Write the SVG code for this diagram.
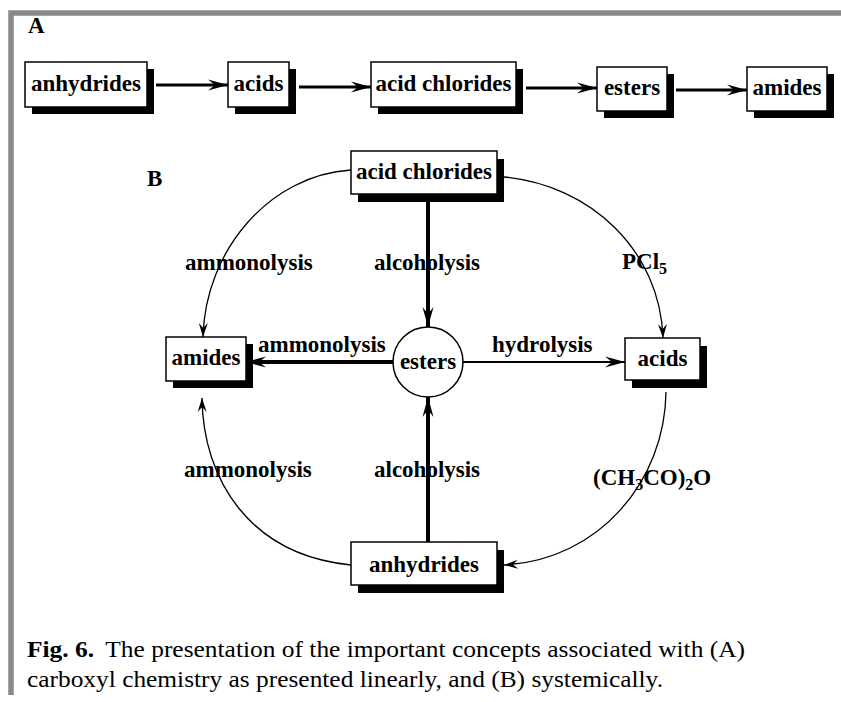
<svg xmlns="http://www.w3.org/2000/svg" width="841" height="702" viewBox="0 0 841 702">
<style>
.box{fill:#fff;stroke:#000;stroke-width:1.5}
.sh{fill:#000}
.nt{font-family:"Liberation Serif","Times New Roman",serif;font-weight:bold;font-size:23px;text-anchor:middle;fill:#000}
.lb{font-family:"Liberation Serif","Times New Roman",serif;font-weight:bold;font-size:23px;fill:#000}
.cap{font-family:"Liberation Serif","Times New Roman",serif;font-size:24px;fill:#000}
.thick{stroke:#000;stroke-width:3;fill:none}
.thick4{stroke:#000;stroke-width:4;fill:none}
.med{stroke:#000;stroke-width:2;fill:none}
.thin{stroke:#000;stroke-width:1.3;fill:none}
</style>
<defs>
<marker id="big" markerUnits="userSpaceOnUse" markerWidth="24" markerHeight="14" viewBox="-22 -7 24 14" refX="0" refY="0" orient="auto">
<path d="M0,0 L-20,-5.5 L-13,0 L-20,5.5 Z" fill="#000"/>
</marker>
<marker id="sm" markerUnits="userSpaceOnUse" markerWidth="16" markerHeight="12" viewBox="-15 -6 16 12" refX="0" refY="0" orient="auto">
<path d="M0,0 L-14,-4.5 L-9,0 L-14,4.5 Z" fill="#000"/>
</marker>
</defs>
<rect width="841" height="702" fill="#fff"/>
<g id="frame">
<path d="M11,695 L11,13 L841,13" fill="none" stroke="#888" stroke-width="5.5"/>
</g>
<text class="lb" x="28" y="33" font-size="22">A</text>
<text class="lb" x="147" y="186" font-size="22">B</text>

<g id="connectors">
<line class="thick" x1="156" y1="85" x2="228" y2="85" marker-end="url(#big)"/>
<line class="thick" x1="299" y1="87" x2="371" y2="87" marker-end="url(#big)"/>
<line class="thick" x1="526" y1="88" x2="597" y2="88" marker-end="url(#big)"/>
<line class="thick" x1="676" y1="90" x2="747" y2="90" marker-end="url(#big)"/>
<line class="thick4" x1="428" y1="194" x2="428" y2="327" marker-end="url(#big)"/>
<line class="thick4" x1="393" y1="362" x2="246" y2="362" marker-end="url(#big)"/>
<line class="med" x1="463" y1="362" x2="625" y2="362" marker-end="url(#big)"/>
<line class="thick4" x1="428" y1="542" x2="428" y2="397" marker-end="url(#big)"/>
<path class="thin" d="M351,170 C270,175 205,250 203,337" marker-end="url(#sm)"/>
<path class="thin" d="M504,177 C590,185 660,250 663,338" marker-end="url(#sm)"/>
<path class="thin" d="M666,392 C665,480 600,560 504,565" marker-end="url(#sm)"/>
<path class="thin" d="M351,565 C250,555 203,480 202,398" marker-end="url(#sm)"/>
</g>

<g id="A-anhydrides"><rect class="sh" x="32" y="69" width="122" height="45"/><rect class="box" x="25" y="62" width="122" height="45"/><text class="nt" x="86" y="91">anhydrides</text></g>
<g id="A-acids"><rect class="sh" x="235" y="69" width="61" height="45"/><rect class="box" x="228" y="62" width="61" height="45"/><text class="nt" x="258.5" y="91">acids</text></g>
<g id="A-acid-chlorides"><rect class="sh" x="378" y="69" width="145" height="45"/><rect class="box" x="371" y="62" width="145" height="45"/><text class="nt" x="443.5" y="91">acid chlorides</text></g>
<g id="A-esters"><rect class="sh" x="604" y="74" width="70" height="44"/><rect class="box" x="597" y="67" width="70" height="44"/><text class="nt" x="632" y="95">esters</text></g>
<g id="A-amides"><rect class="sh" x="754" y="74" width="80" height="44"/><rect class="box" x="747" y="67" width="80" height="44"/><text class="nt" x="787" y="95">amides</text></g>

<g id="B-acid-chlorides"><rect class="sh" x="358" y="159" width="146" height="43"/><rect class="box" x="351" y="151" width="146" height="43"/><text class="nt" x="424" y="179">acid chlorides</text></g>
<g id="B-amides"><rect class="sh" x="173" y="344" width="80" height="44"/><rect class="box" x="166" y="337" width="80" height="44"/><text class="nt" x="206" y="365">amides</text></g>
<g id="B-esters"><circle cx="428" cy="362" r="35" fill="#fff" stroke="#000" stroke-width="1.5"/><text class="nt" x="428" y="369">esters</text></g>
<g id="B-acids"><rect class="sh" x="632" y="346" width="75" height="42"/><rect class="box" x="625" y="338" width="75" height="42"/><text class="nt" x="662.5" y="366">acids</text></g>
<g id="B-anhydrides"><rect class="sh" x="358" y="550" width="146" height="43"/><rect class="box" x="351" y="542" width="146" height="43"/><text class="nt" x="424" y="572">anhydrides</text></g>

<g id="labels">
<text class="lb" x="185" y="270">ammonolysis</text>
<text class="lb" x="374" y="270">alcoholysis</text>
<text class="lb" x="622" y="269">PCl<tspan font-size="16" dy="5">5</tspan></text>
<text class="lb" x="258" y="352">ammonolysis</text>
<text class="lb" x="492" y="352">hydrolysis</text>
<text class="lb" x="184" y="477">ammonolysis</text>
<text class="lb" x="374" y="477">alcoholysis</text>
<text class="lb" x="593" y="485">(CH<tspan font-size="16" dy="5">3</tspan><tspan dy="-5">CO)</tspan><tspan font-size="16" dy="5">2</tspan><tspan dy="-5">O</tspan></text>
</g>

<g id="caption">
<text class="cap" x="27" y="657" textLength="718" lengthAdjust="spacingAndGlyphs"><tspan font-weight="bold">Fig. 6.</tspan><tspan dx="5"> The presentation of the important concepts associated with (A)</tspan></text>
<text class="cap" x="27" y="687" textLength="636" lengthAdjust="spacingAndGlyphs">carboxyl chemistry as presented linearly, and (B) systemically.</text>
</g>
</svg>
